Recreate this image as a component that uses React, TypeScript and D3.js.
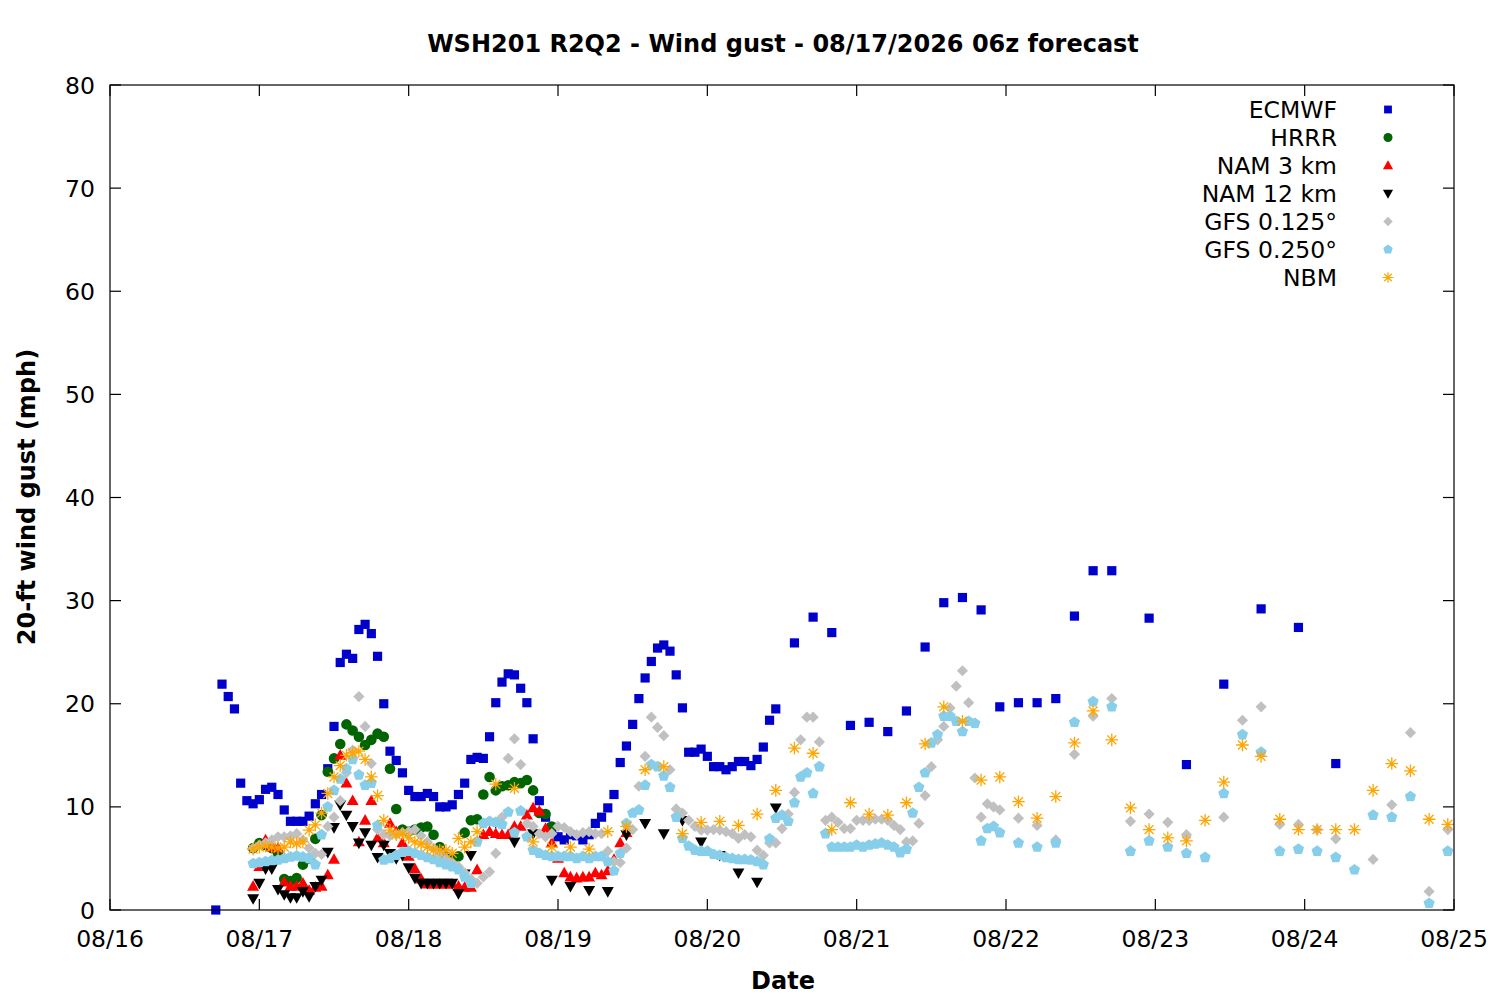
import React, { useEffect, useRef } from 'react';
import * as d3 from 'd3';

// each series is a list of runs: first hour (since 08/16 00z), spacing in hours, values (mph)
type Run = { start: number; step: number; values: (number | null)[] };

const ecmwf: Run[] = [
  {
    start: 17,
    step: 1,
    values: [
      0, 21.9, 20.7, 19.5, 12.3, 10.6, 10.3, 10.7, 11.7, 11.9,
      11.2, 9.7, 8.6, 8.6, 8.6, 9.1, 10.3, 11.2, 13.7, 17.8,
      24.0, 24.8, 24.4, 27.2, 27.7, 26.8, 24.6, 20.0, 15.4, 14.5,
      13.3, 11.6, 11.0, 11.0, 11.3, 11.0, 10.0, 10.0, 10.2, 11.2,
      12.3, 14.6, 14.8, 14.7, 16.8, 20.1, 22.1, 22.9, 22.8, 21.5,
      20.1, 16.6, 10.6, 9.0, 8.0, 7.1, 6.8, 7.3, 7.2, 6.8,
      7.3, 8.4, 9.0, 9.9, 11.2, 14.3, 15.9, 18.0, 20.5, 22.5,
      24.1, 25.4, 25.7, 25.1, 22.8, 19.6, 15.3, 15.3, 15.6, 14.9,
      13.9, 13.9, 13.6, 13.9, 14.4, 14.4, 14.0, 14.6, 15.8, 18.4,
      19.5,
    ],
  },
  {
    start: 110,
    step: 3,
    values: [25.9, 28.4, 26.9, 17.9, 18.2, 17.3, 19.3, 25.5, 29.8, 30.3, 29.1, 19.7, 20.1, 20.1, 20.5, 28.5, 32.9, 32.9],
  },
  { start: 167, step: 6, values: [28.3, 14.1, 21.9, 29.2, 27.4, 14.2] },
];

const hrrr: Run[] = [
  {
    start: 23,
    step: 1,
    values: [
      6.0, 6.5, 6.3, 6.0, 5.5, 3.0, 2.8, 3.1, 4.4, 5.0,
      6.9, 9.2, 13.4, 14.7, 16.1, 18.0, 17.4, 16.8, 16.0, 16.5,
      17.1, 16.8, 13.7, 9.8, 7.8, 7.6, 7.8, 8.0, 8.1, 7.3,
      6.1, 5.2, 5.0, 5.2, 7.5, 8.7, 8.8, 11.2, 12.9, 11.6,
      12.0, 12.1, 12.4, 12.3, 12.6, 11.6, 9.4, 9.3, 8.1,
    ],
  },
];

const nam3: Run[] = [
  {
    start: 23,
    step: 1,
    values: [
      2.3, 4.2, 6.8, 6.1, 6.0, 2.7, 2.3, 2.3, 2.6, 1.9,
      2.2, 2.3, 3.4, 4.9, 15.0, 12.3, 10.6, 6.6, 8.7, 10.6,
      7.0, 6.5, 8.4, 7.6, 6.5, 5.2, 4.0, 3.0, 2.5, 2.5,
      2.5, 2.5, 2.5, 2.3, 2.2, 2.2, 3.9, 7.3, 7.6, 7.4,
      7.3, 7.3, 8.1, 8.1, 9.2, 9.9, 9.6, 7.9, 6.5, 5.0,
      3.6, 3.2, 3.1, 3.2, 3.2, 3.6, 3.4, 3.8, 4.9, 6.5,
      7.5,
    ],
  },
];

const nam12: Run[] = [
  {
    start: 23,
    step: 1,
    values: [
      1.1, 2.6, 4.0, 4.0, 2.0, 1.5, 1.2, 1.2, 1.8, 1.3,
      2.3, 2.9, 5.6, 8.0, 10.2, 9.2, 8.1, 6.5, 7.5, 6.3,
      5.1, 6.3, 5.5, 5.0, 5.3, 4.1, 3.1, 2.6, 2.6, 2.6,
      2.6, 2.6, 2.6, 1.6, 3.5, 5.3,
    ],
  },
  {
    start: 62,
    step: 3,
    values: [8.5, 6.6, 7.4, 2.9, 2.3, 1.9, 1.8, 7.3, 8.4, 7.4, 8.7, 6.6, 5.3, 3.6, 2.7, 9.9],
  },
];

const gfs0125: Run[] = [
  {
    start: 23,
    step: 1,
    values: [
      6.0, 6.3, 6.5, 6.8, 7.1, 7.1, 7.2, 7.4, 6.8, 6.0,
      5.5, 5.4, 8.1, 9.0, 10.6, 13.3, 15.5, 20.7, 17.8, 14.2,
      7.8, 7.3, 7.2, 7.3, 7.5, 7.6, 7.8, 7.2, 6.6, 6.0,
      5.5, 5.0, 4.6, 4.2, 3.6, 3.0, 2.6, 3.2, 3.7, 5.5,
      9.0, 14.7, 16.6, 14.1, 8.4, 8.1, 7.4, 7.1, 7.4, 8.1,
      8.0, 7.6, 7.3, 7.5, 7.6, 7.4, 7.4, 5.7, 4.7, 4.6,
      6.0, 7.8, 12.0, 14.9, 18.7, 17.7, 16.9, 13.6, 9.8, 9.4,
      8.7, 8.1, 7.75, 7.75, 7.8, 7.75, 7.6, 7.4, 6.95, 7.3,
      7.1, 5.8, 5.3, 6.5, 6.5, 7.9, 9.3, 11.4, 16.5, 18.7,
      18.7, 16.3, 8.7, 9.0, 8.5, 7.9, 7.9, 8.7, 8.7, 8.7,
      8.8, 8.8, 8.7, 8.2, 7.8, 6.6, 6.7, 8.4, 11.1, 13.9,
      16.5, 17.8, 19.6, 21.7, 23.2, 20.1, 12.8, 9.0, 10.3, 10.0,
      9.7,
    ],
  },
  {
    start: 146,
    step: 3,
    values: [
      8.9, 8.2, 6.8, 15.1, 18.8, 20.5, 8.6, 9.3, 8.5, 7.3,
      null, 9.0, 18.4, 19.7, 8.3, 8.3, 7.8, 6.9, null, 4.9,
      10.2, 17.2, 1.8, 7.8,
    ],
  },
];

const gfs0250: Run[] = [
  {
    start: 23,
    step: 1,
    values: [
      4.5, 4.6, 4.7, 4.8, 4.85, 5.0, 5.15, 5.25, 5.15, 5.0,
      4.4, 7.3, 10.0, 11.6, 12.7, 13.7, 14.6, 13.1, 12.1, 12.3,
      8.2, 4.85, 5.0, 5.3, 5.6, 5.7, 5.5, 5.3, 5.1, 4.9,
      4.6, 4.4, 4.2, 3.9, 3.2, 2.6, 6.6, 8.4, 8.6, 8.5,
      8.3, 9.5, 7.5, 9.6, 7.1, 5.8, 5.5, 5.3, 5.2, 5.2,
      5.2, 5.2, 5.0, 5.2, 5.0, 5.2, 5.2, 4.7, 3.8, 5.5,
      8.4, 9.4, 9.7, 12.1, 14.1, 13.9, 13.0, 11.9, 9.0, 6.95,
      6.2, 5.8, 5.7, 5.7, 5.4, 5.3, 5.1, 5.0, 4.9, 4.9,
      4.85, 4.7, 4.4, 6.9, 8.9, 9.2, 8.6, 10.4, 12.9, 13.3,
      11.3, 13.9, 7.4, 6.1, 6.1, 6.1, 6.1, 6.3, 6.1, 6.3,
      6.4, 6.5, 6.3, 6.1, 5.55, 5.9, 9.4, 11.9, 13.3, 16.2,
      17.0, 18.8, 18.8, 18.3, 17.3, 18.3, 18.1, 6.7, 7.9, 8.1,
      7.5,
    ],
  },
  {
    start: 146,
    step: 3,
    values: [
      6.5, 6.1, 6.5, 18.2, 20.2, 19.7, 5.7, 6.7, 6.1, 5.5,
      5.1, 11.3, 17.0, 15.3, 5.7, 5.9, 5.7, 5.1, 3.9, 9.2,
      9.0, 11.0, 0.65, 5.7,
    ],
  },
];

const nbm: Run[] = [
  {
    start: 23,
    step: 1,
    values: [
      5.9, 6.1, 6.2, 6.1, 6.0, 6.1, 6.6, 6.45, 6.6, 7.75,
      8.25, 9.4, 11.3, 12.9, 14.0, 15.0, 15.25, 15.4, 14.6, 12.9,
      11.1, 8.7, 7.75, 7.3, 7.4, 7.0, 6.6, 6.4, 6.1, 5.8,
      5.8, 5.8, 5.5, 6.95, 6.1, 6.6, 7.6,
    ],
  },
  {
    start: 62,
    step: 3,
    values: [
      12.2, 11.8, 6.6, 6.1, 6.1, 5.9, 7.6, 8.1, 13.6, 13.9,
      7.4, 8.5, 8.6, 8.2, 9.3, 11.6, 15.7, 15.2, 7.8, 10.4,
      9.3, 9.2, 10.4, 16.1, 19.7, 18.3, 12.6, 12.9, 10.5, 8.9,
      11.0, 16.2, 19.3, 16.5, 9.9, 7.8, 7.0, 6.7, 8.7, 12.4,
      16.0, 14.9, 8.8, 7.8, 7.8, 7.8, 7.8, 11.6, 14.2, 13.5,
      8.8, 8.3,
    ],
  },
];

const yTicks = [0, 10, 20, 30, 40, 50, 60, 70, 80];
const startDay = Date.UTC(2026, 7, 16);
const endDay = Date.UTC(2026, 7, 25);

type Shape = 'square' | 'circle' | 'triUp' | 'triDown' | 'diamond' | 'pentagon' | 'star';

const models: { label: string; runs: Run[]; color: string; shape: Shape }[] = [
  { label: 'ECMWF', runs: ecmwf, color: '#0000cc', shape: 'square' },
  { label: 'HRRR', runs: hrrr, color: '#006400', shape: 'circle' },
  { label: 'NAM 3 km', runs: nam3, color: '#ff0000', shape: 'triUp' },
  { label: 'NAM 12 km', runs: nam12, color: '#000000', shape: 'triDown' },
  { label: 'GFS 0.125°', runs: gfs0125, color: '#c0c0c0', shape: 'diamond' },
  { label: 'GFS 0.250°', runs: gfs0250, color: '#87ceeb', shape: 'pentagon' },
  { label: 'NBM', runs: nbm, color: '#ffa500', shape: 'star' },
];

const FONT = '"DejaVu Sans", Verdana, sans-serif';

// path for a marker centred on 0,0
const markerPath = (shape: Shape): string => {
  const poly = (pts: [number, number][]) => 'M' + pts.map((p) => p.join(',')).join('L') + 'Z';
  switch (shape) {
    case 'square':
      return poly([[-4.6, -4.6], [4.6, -4.6], [4.6, 4.6], [-4.6, 4.6]]);
    case 'circle':
      return 'M5.3,0A5.3,5.3 0 1,1 -5.3,0A5.3,5.3 0 1,1 5.3,0Z';
    case 'triUp':
      return poly([[0, -6.2], [6, 4.4], [-6, 4.4]]);
    case 'triDown':
      return poly([[0, 6.2], [6, -4.4], [-6, -4.4]]);
    case 'diamond':
      return poly([[0, -5.6], [5.6, 0], [0, 5.6], [-5.6, 0]]);
    case 'pentagon': {
      const pts = d3.range(5).map((i) => {
        const a = -Math.PI / 2 + (i * 2 * Math.PI) / 5;
        return [5.9 * Math.cos(a), 5.9 * Math.sin(a)] as [number, number];
      });
      return poly(pts);
    }
    case 'star': {
      const r = 6.3;
      const d = r * Math.SQRT1_2;
      return `M${-r},0L${r},0M0,${-r}L0,${r}M${-d},${-d}L${d},${d}M${-d},${d}L${d},${-d}`;
    }
  }
};

const App: React.FC = () => {
  const svgRef = useRef<SVGSVGElement>(null);

  useEffect(() => {
    if (!svgRef.current) return;
    const svg = d3.select(svgRef.current);
    svg.selectAll('*').remove();

    const left = 110;
    const right = 1454;
    const top = 85;
    const bottom = 910;
    const tick = 11;

    const x = d3.scaleUtc().domain([new Date(startDay), new Date(endDay)]).range([left, right]);
    const y = d3.scaleLinear().domain([0, 80]).range([bottom, top]);
    const hourToDate = (h: number) => new Date(startDay + h * 3600 * 1000);

    svg.append('rect').attr('width', 1500).attr('height', 1000).attr('fill', '#fff');

    // points, in legend order so later models sit on top
    const plot = svg.append('g');
    models.forEach((m) => {
      const pts = m.runs.flatMap((r) =>
        r.values
          .map((v, i) => ({ h: r.start + i * r.step, v }))
          .filter((p) => p.v !== null) as { h: number; v: number }[]
      );
      const g = plot.append('g');
      g.selectAll('path')
        .data(pts)
        .enter()
        .append('path')
        .attr('transform', (p) => `translate(${x(hourToDate(p.h))},${y(p.v)})`)
        .attr('d', markerPath(m.shape))
        .attr('fill', m.shape === 'star' ? 'none' : m.color)
        .attr('stroke', m.shape === 'star' ? m.color : 'none')
        .attr('stroke-width', 1.3);
    });

    // frame and mirrored inward ticks
    const axes = svg.append('g').attr('stroke', '#000').attr('stroke-width', 1.2);
    yTicks.forEach((t) => {
      axes.append('line').attr('x1', left).attr('x2', left + tick).attr('y1', y(t)).attr('y2', y(t));
      axes.append('line').attr('x1', right).attr('x2', right - tick).attr('y1', y(t)).attr('y2', y(t));
    });
    const days = x.ticks(d3.utcDay.every(1)!);
    days.forEach((d) => {
      axes.append('line').attr('x1', x(d)).attr('x2', x(d)).attr('y1', bottom).attr('y2', bottom - tick);
      axes.append('line').attr('x1', x(d)).attr('x2', x(d)).attr('y1', top).attr('y2', top + tick);
    });
    axes
      .append('rect')
      .attr('x', left)
      .attr('y', top)
      .attr('width', right - left)
      .attr('height', bottom - top)
      .attr('fill', 'none');

    const text = svg.append('g').attr('font-family', FONT).attr('fill', '#000');

    text
      .selectAll('.ytick')
      .data(yTicks)
      .enter()
      .append('text')
      .attr('x', left - 15)
      .attr('y', (t) => y(t) + 8.5)
      .attr('text-anchor', 'end')
      .attr('font-size', 23.5)
      .text((t) => String(t));

    const fmt = d3.utcFormat('%m/%d');
    text
      .selectAll('.xtick')
      .data(days)
      .enter()
      .append('text')
      .attr('x', (d) => x(d))
      .attr('y', 947)
      .attr('text-anchor', 'middle')
      .attr('font-size', 23.5)
      .text((d) => fmt(d));

    text
      .append('text')
      .attr('x', 783)
      .attr('y', 51.5)
      .attr('text-anchor', 'middle')
      .attr('font-size', 24)
      .attr('font-weight', 'bold')
      .text('WSH201 R2Q2 - Wind gust - 08/17/2026 06z forecast');

    text
      .append('text')
      .attr('x', 783)
      .attr('y', 989)
      .attr('text-anchor', 'middle')
      .attr('font-size', 24)
      .attr('font-weight', 'bold')
      .text('Date');

    text
      .append('text')
      .attr('transform', 'translate(35,497) rotate(-90)')
      .attr('text-anchor', 'middle')
      .attr('font-size', 24)
      .attr('font-weight', 'bold')
      .text('20-ft wind gust (mph)');

    // legend
    const legend = svg.append('g');
    models.forEach((m, i) => {
      const cy = 109.5 + i * 28;
      legend
        .append('text')
        .attr('x', 1337)
        .attr('y', cy + 8.5)
        .attr('text-anchor', 'end')
        .attr('font-family', FONT)
        .attr('font-size', 23.5)
        .text(m.label);
      legend
        .append('path')
        .attr('transform', `translate(1388,${cy}) scale(0.85)`)
        .attr('d', markerPath(m.shape))
        .attr('fill', m.shape === 'star' ? 'none' : m.color)
        .attr('stroke', m.shape === 'star' ? m.color : 'none')
        .attr('stroke-width', 1.4);
    });
  }, []);

  return (
    <div style={{ position: 'absolute', left: 0, top: 0 }}>
      <svg ref={svgRef} width={1500} height={1000} style={{ display: 'block' }} />
    </div>
  );
};

export default App;
